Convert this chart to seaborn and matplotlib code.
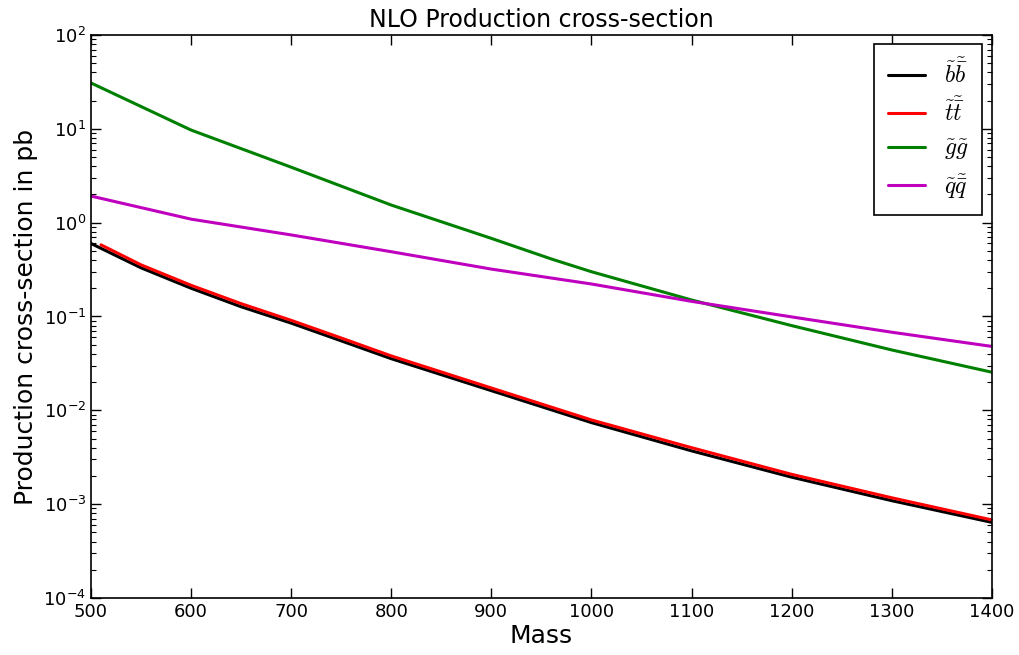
import numpy as np
import pandas as pd
import matplotlib
matplotlib.use("Agg")
import matplotlib.pyplot as plt
import seaborn as sns

# Production cross-sections (pb) versus sparticle mass
mass_bb = [500, 550, 600, 650, 700, 750, 800, 900, 1000, 1100, 1200, 1300, 1400]
xs_bb = [0.60, 0.33, 0.20, 0.127, 0.085, 0.055, 0.0355, 0.0162, 0.0074,
         0.0037, 0.00194, 0.00109, 0.00064]

mass_tt = [510, 550, 600, 650, 700, 750, 800, 900, 1000, 1100, 1200, 1300, 1400]
xs_tt = [0.58, 0.355, 0.215, 0.137, 0.091, 0.059, 0.038, 0.0173, 0.0079,
         0.0040, 0.00208, 0.00117, 0.00068]

mass_gg = [500, 600, 700, 800, 900, 960, 1000, 1100, 1200, 1300, 1400]
xs_gg = [30.8, 9.7, 3.9, 1.54, 0.68, 0.41, 0.30, 0.150, 0.080, 0.044, 0.0255]

mass_qq = [500, 600, 700, 800, 900, 1000, 1100, 1200, 1300, 1400]
xs_qq = [1.92, 1.09, 0.74, 0.49, 0.32, 0.222, 0.145, 0.099, 0.068, 0.048]

labels = [r"$\tilde{b}\tilde{\bar{b}}$", r"$\tilde{t}\tilde{\bar{t}}$",
          r"$\tilde{g}\tilde{g}$", r"$\tilde{q}\tilde{\bar{q}}$"]
colors = ["#000000", "#ff0000", "#008000", "#bf00bf"]

sns.set_style("ticks")
plt.rcParams["font.family"] = ["DejaVu Sans"]
plt.rcParams["mathtext.fontset"] = "dejavusans"
plt.rcParams["text.color"] = "black"
plt.rcParams["axes.labelcolor"] = "black"
plt.rcParams["xtick.color"] = "black"
plt.rcParams["ytick.color"] = "black"

fig = plt.figure(figsize=(10.19, 6.55), dpi=100)
ax = fig.add_axes([0.0893, 0.087, 0.884, 0.8596])

series = [(mass_bb, xs_bb), (mass_tt, xs_tt), (mass_gg, xs_gg), (mass_qq, xs_qq)]
for (m, xs), lab, col in zip(series, labels, colors):
    sns.lineplot(x=m, y=xs, ax=ax, color=col, linewidth=2.2, label=lab)

ax.set_yscale("log")
ax.set_xlim(500, 1400)
ax.set_ylim(1e-4, 1e2)
ax.set_xticks(range(500, 1401, 100))
ax.tick_params(which="both", direction="in", top=True, right=True, labelsize=13)
ax.tick_params(which="major", length=7, width=1)
ax.tick_params(which="minor", length=3.5, width=0.8)
for s in ax.spines.values():
    s.set_linewidth(1.2)
    s.set_color("black")

ax.set_title("NLO Production cross-section", fontsize=17)
ax.set_xlabel("Mass", fontsize=18, labelpad=2)
ax.set_ylabel("Production cross-section in pb", fontsize=18)

with plt.rc_context({"mathtext.fontset": "cm"}):
    leg = ax.legend(loc="upper right", fontsize=17, fancybox=False,
                    framealpha=1, edgecolor="black", handlelength=1.55,
                    labelspacing=0.42, borderpad=0.6, handletextpad=0.8,
                    borderaxespad=0.4)
leg.get_frame().set_linewidth(1.2)

fig.savefig("out.png", dpi=100)
